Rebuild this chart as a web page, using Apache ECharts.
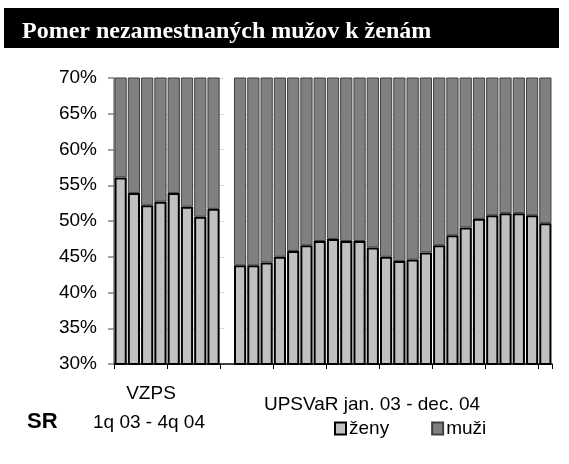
<!DOCTYPE html>
<html>
<head>
<meta charset="utf-8">
<script src="https://cdn.jsdelivr.net/npm/echarts@6/dist/echarts.min.js"></script>
<style>
  html, body { margin: 0; padding: 0; background: #fff; }
  #chart { width: 569px; height: 464px; }
</style>
</head>
<body>
<div id="chart"></div>
<script>
// VZPS quarters (1q 03 - 4q 04), empty slot, UPSVaR months (jan 03 - dec 04)
var vzps = [56.1, 53.9, 52.2, 52.7, 53.9, 52.0, 50.6, 51.7];
var upsvar = [43.8, 43.8, 44.2, 45.0, 45.8, 46.6, 47.2, 47.5, 47.2, 47.2, 46.3, 45.0,
              44.4, 44.6, 45.6, 46.6, 48.0, 49.1, 50.3, 50.8, 51.1, 51.1, 50.8, 49.7];
var yTicks = [30, 35, 40, 45, 50, 55, 60, 65, 70];

var categories = [];
var zeny = [];
for (var i = 0; i < vzps.length; i++) { categories.push('q' + (i + 1)); zeny.push(vzps[i]); }
categories.push('');
zeny.push('-');
for (var j = 0; j < upsvar.length; j++) { categories.push('m' + (j + 1)); zeny.push(upsvar[j]); }
var muzi = zeny.map(function(v) { return v === '-' ? '-' : +(100 - v).toFixed(1); });

var sans = '"Liberation Sans", Arial, sans-serif';

var chart = echarts.init(document.getElementById('chart'), null, { renderer: 'canvas' });
chart.setOption({
  animation: false,
  textStyle: { fontFamily: sans },
  grid: { left: 114, right: 17, top: 78, bottom: 100 },
  xAxis: {
    type: 'category', data: categories,
    axisLine: { lineStyle: { color: '#000', width: 1.5 } },
    axisTick: { show: true, interval: 3, length: 5, lineStyle: { color: '#000' } },
    axisLabel: { show: false }
  },
  yAxis: {
    type: 'value', min: yTicks[0], max: yTicks[yTicks.length - 1], interval: 5,
    axisLine: { show: true, lineStyle: { color: '#808080', width: 1.5 } },
    axisTick: { show: true, length: 6, lineStyle: { color: '#808080', width: 1.5 } },
    axisLabel: { color: '#000', fontSize: 19, margin: 17, formatter: '{value}%' },
    splitLine: { show: true, lineStyle: { color: '#d8d8d8', type: [10, 15] } }
  },
  series: [
    { name: 'ženy', type: 'bar', stack: 'a', data: zeny, barCategoryGap: '8%',
      itemStyle: { color: '#c0c0c0', borderColor: '#000', borderWidth: 2 } },
    { name: 'muži', type: 'bar', stack: 'a', data: muzi, clip: true,
      itemStyle: { color: '#808080', borderColor: '#404040', borderWidth: 1 } }
  ],
  legend: {
    data: ['ženy', 'muži'], left: 334, top: 419, itemGap: 42, padding: 0,
    itemWidth: 11, itemHeight: 12, icon: 'rect',
    textStyle: { color: '#000', fontSize: 19, padding: [2, 0, 0, -2] }
  },
  graphic: [
    { type: 'rect', shape: { x: 4, y: 8, width: 555, height: 40 }, style: { fill: '#000' } },
    { type: 'text', left: 22, top: 20,
      style: { text: 'Pomer nezamestnaných mužov k ženám', fill: '#fff',
        font: 'bold 24px "Liberation Serif", "DejaVu Serif", serif' } },
    { type: 'text', x: 151, y: 403,
      style: { text: 'VZPS', fill: '#000', align: 'center', verticalAlign: 'bottom',
        font: '19px ' + sans } },
    { type: 'text', x: 149, y: 432,
      style: { text: '1q 03 - 4q 04', fill: '#000', align: 'center', verticalAlign: 'bottom',
        font: '19px ' + sans } },
    { type: 'text', x: 27, y: 433,
      style: { text: 'SR', fill: '#000', verticalAlign: 'bottom',
        font: 'bold 22px ' + sans } },
    { type: 'text', x: 372, y: 414,
      style: { text: 'UPSVaR jan. 03 - dec. 04', fill: '#000', align: 'center', verticalAlign: 'bottom',
        font: '19px ' + sans } }
  ]
});
</script>
</body>
</html>
